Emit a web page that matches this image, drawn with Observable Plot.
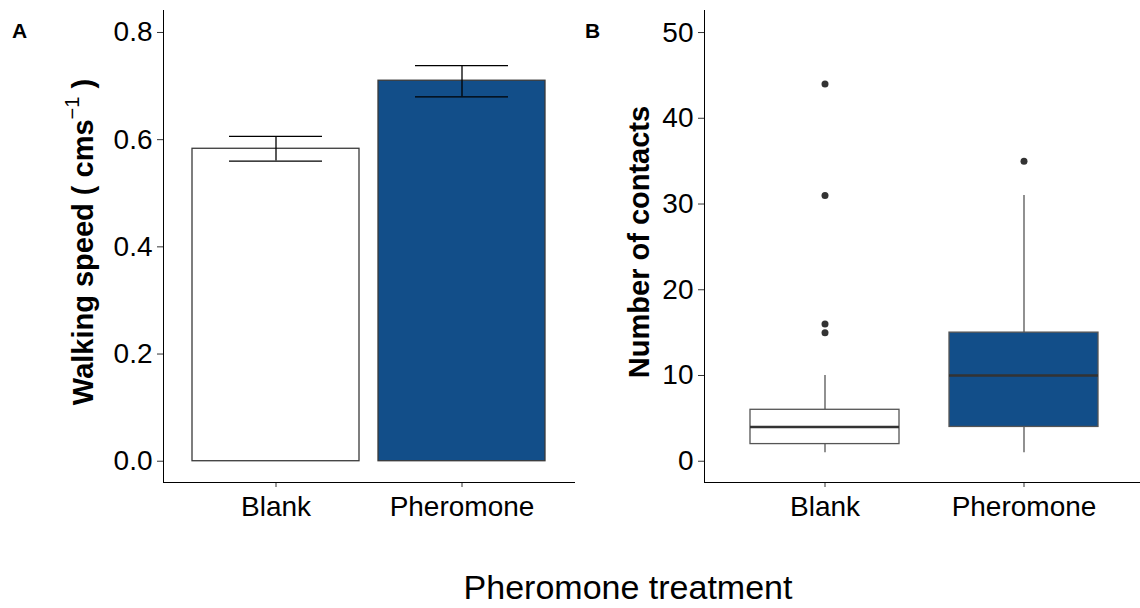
<!DOCTYPE html>
<html><head><meta charset="utf-8">
<script src="https://cdn.jsdelivr.net/npm/d3@7"></script>
<script src="https://cdn.jsdelivr.net/npm/@observablehq/plot@0.6"></script>
<style>
html,body{margin:0;padding:0;background:#fff;overflow:hidden}
#wrap{position:relative;width:1140px;height:608px;overflow:hidden;background:#fff}
#wrap svg{position:absolute;top:0;overflow:visible}
</style></head><body><div id="wrap"></div>
<script>
// ---- data ----
const categories = ["Blank", "Pheromone"];
const fillColors = ["#ffffff", "#124e89"];
// Panel A: walking speed (mean ± SE)
const speedMean = [0.583, 0.710];
const speedLow = [0.560, 0.680];
const speedHigh = [0.606, 0.738];
const speedTicks = [0, 0.2, 0.4, 0.6, 0.8];
// Panel B: number of contacts (box plot summary)
const contactQ1 = [2, 4];
const contactMedian = [4, 10];
const contactQ3 = [6, 15];
const contactWhiskerLow = [1, 1];
const contactWhiskerHigh = [10, 31];
const outlierGroup = ["Blank", "Blank", "Blank", "Blank", "Pheromone"];
const outlierValue = [15, 16, 31, 44, 35];
const contactTicks = [0, 10, 20, 30, 40, 50];

const font = '"Liberation Sans", Arial, Helvetica, sans-serif';
const speedRows = categories.map((c, i) => ({group: c, mean: speedMean[i], low: speedLow[i], high: speedHigh[i]}));
const boxRows = categories.map((c, i) => ({group: c, q1: contactQ1[i], median: contactMedian[i], q3: contactQ3[i], lo: contactWhiskerLow[i], hi: contactWhiskerHigh[i]}));
const outlierRows = outlierGroup.map((g, i) => ({group: g, value: outlierValue[i]}));

const common = {
  height: 530, marginTop: 10, marginBottom: 48,
  style: {fontFamily: font, fontSize: "28px", color: "#000", background: "transparent", overflow: "visible"},
  color: {domain: categories, range: fillColors}
};

const plotA = Plot.plot({
  ...common, width: 580, marginLeft: 163, marginRight: 6,
  x: {type: "band", domain: categories, paddingInner: 0.1, paddingOuter: 0.15, axis: null},
  y: {domain: [-0.0397, 0.841], axis: null},
  marks: [
    Plot.barY(speedRows, {x: "group", y1: 0, y2: "mean", fill: "group", stroke: "#3a3a3a", strokeWidth: 1.3}),
    Plot.ruleX(speedRows, {x: "group", y1: "low", y2: "high", stroke: "#000", strokeWidth: 1.3}),
    Plot.tickY(speedRows, {x: "group", y: "low", stroke: "#000", strokeWidth: 1.3, insetLeft: 37, insetRight: 37}),
    Plot.tickY(speedRows, {x: "group", y: "high", stroke: "#000", strokeWidth: 1.3, insetLeft: 37, insetRight: 37}),
    Plot.axisY({ticks: speedTicks, tickFormat: d => d.toFixed(1), tickSize: 6, tickPadding: 5, stroke: "#333", label: null}),
    Plot.axisX({tickSize: 5, tickPadding: 9, stroke: "#333", label: null}),
    Plot.frame({anchor: "left", stroke: "#000"}),
    Plot.frame({anchor: "bottom", stroke: "#000"})
  ]
});

const plotB = Plot.plot({
  ...common, width: 564, marginLeft: 124, marginRight: 0,
  x: {type: "band", domain: categories, paddingInner: 0.25, paddingOuter: 0.225, axis: null},
  y: {domain: [-2.48, 52.57], axis: null},
  marks: [
    Plot.ruleX(boxRows, {x: "group", y1: "lo", y2: "q1", stroke: "#555", strokeWidth: 1.3}),
    Plot.ruleX(boxRows, {x: "group", y1: "q3", y2: "hi", stroke: "#555", strokeWidth: 1.3}),
    Plot.barY(boxRows, {x: "group", y1: "q1", y2: "q3", fill: "group", stroke: "#555", strokeWidth: 1.3}),
    Plot.tickY(boxRows, {x: "group", y: "median", stroke: "#333", strokeWidth: 2.6}),
    Plot.dot(outlierRows, {x: "group", y: "value", r: 3.5, fill: "#333", stroke: null}),
    Plot.axisY({ticks: contactTicks, tickSize: 6, tickPadding: 5, stroke: "#333", label: null}),
    Plot.axisX({tickSize: 5, tickPadding: 9, stroke: "#333", label: null}),
    Plot.frame({anchor: "left", stroke: "#000"}),
    Plot.frame({anchor: "bottom", stroke: "#000"})
  ]
});

const wrap = document.getElementById("wrap");
plotA.style.left = "0px";
plotB.style.left = "580px";
wrap.appendChild(plotA);
wrap.appendChild(plotB);

// Axis titles and panel tags
const sA = d3.select(plotA), sB = d3.select(plotB);
const tA = sA.append("text")
  .attr("transform", "translate(93,242) rotate(-90)")
  .attr("text-anchor", "middle")
  .style("font-family", font).style("font-weight", "bold").style("font-size", "29px").attr("fill", "#000");
tA.append("tspan").text("Walking speed ( cms");
tA.append("tspan").attr("dy", -14).style("font-size", "20px").style("font-weight", "normal").text("\u22121");
tA.append("tspan").attr("dy", 14).text(" )");

sB.append("text")
  .attr("transform", "translate(69,242) rotate(-90)")
  .attr("text-anchor", "middle")
  .style("font-family", font).style("font-weight", "bold").style("font-size", "29px").attr("fill", "#000")
  .text("Number of contacts");

sA.append("text").attr("x", 12).attr("y", 38).attr("text-anchor", "start")
  .style("font-family", font).style("font-weight", "bold").style("font-size", "21px").attr("fill", "#000").text("A");
sB.append("text").attr("x", 5).attr("y", 38).attr("text-anchor", "start")
  .style("font-family", font).style("font-weight", "bold").style("font-size", "21px").attr("fill", "#000").text("B");

sA.append("text").attr("x", 628).attr("y", 599).attr("text-anchor", "middle")
  .style("font-family", font).style("font-size", "34px").attr("fill", "#000").text("Pheromone treatment");
</script>
</body></html>
